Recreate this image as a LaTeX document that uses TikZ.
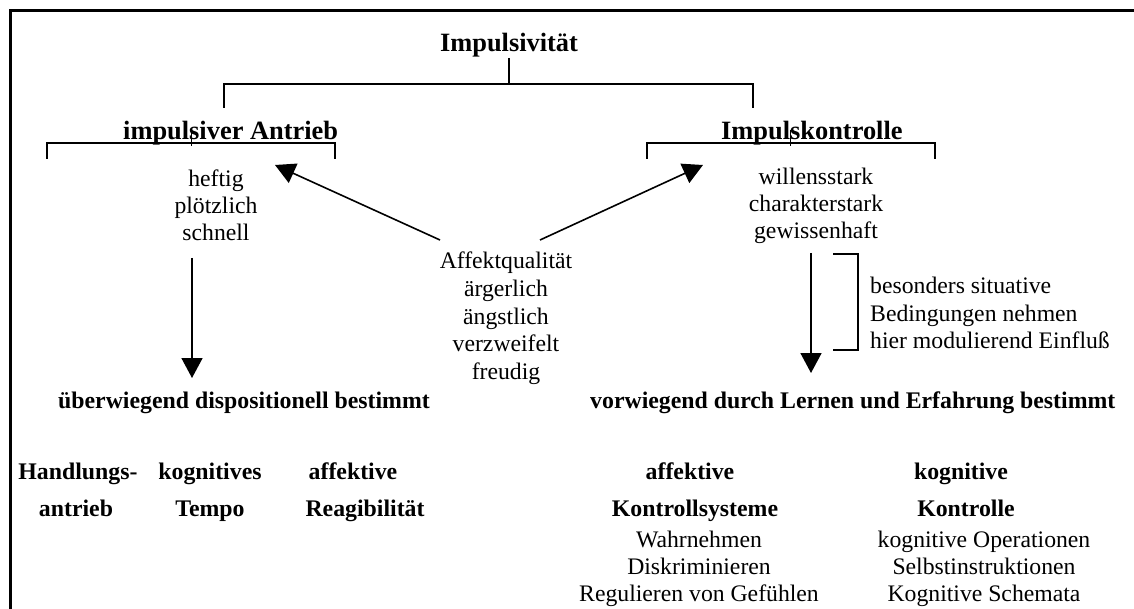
\documentclass[tikz,border=0pt]{standalone}
\usepackage{fontspec}
\setmainfont{Liberation Serif}
\usetikzlibrary{arrows.meta}
\begin{document}
\begin{tikzpicture}[x=1pt,y=-1pt,
  txt/.style={inner sep=0pt, font=\fontsize{23.7}{27}\selectfont, anchor=base},
  bld/.style={inner sep=0pt, font=\fontsize{23.8}{37}\selectfont\bfseries, anchor=base},
  head/.style={inner sep=0pt, font=\fontsize{26.4}{30}\selectfont\bfseries, anchor=base},
  ln/.style={line width=1.6pt},
  arr/.style={ln, -{Triangle[length=20pt,width=21pt]}},
  frm/.style={line width=3pt, line join=miter}]
\fill[white] (0,0) rectangle (1134,609);
\useasboundingbox (0,0) rectangle (1134,609);
% frame
\draw[frm] (1134,11) -- (10,11) -- (10,609);

% headings
\node[head] (imp) at (509,52) {Impulsivität};
\node[head, anchor=base west] (antrieb) at (123,140) {impulsiver Antrieb};
\node[head, anchor=base west] (kontr) at (721,140) {Impulskontrolle};

% tree connectors
\coordinate (jl) at (224,108);
\coordinate (jr) at (753,108);
\coordinate (jm) at (509,84);
\draw[ln] (imp.south) -- (jm);
\draw[ln] (jl) |- (jm) -| (jr);

% brackets under headings
\coordinate (bl1) at (47,159);
\coordinate (bl2) at (335,159);
\coordinate (br1) at (647,159);
\coordinate (br2) at (935,159);
\draw[ln] (bl1) |- (335,143) -- (bl2);
\draw[ln] (br1) |- (935,143) -- (br2);
\draw[line width=1pt] (191,130) -- (191,146);
\draw[line width=1pt] (790,130) -- (790,146);

% descriptive blocks
\foreach \t [count=\i] in {heftig,plötzlich,schnell}
  \node[txt] (heft\i) at (216,160+27*\i) {\t};
\foreach \t [count=\i] in {Affektqualität,ärgerlich,ängstlich,verzweifelt,freudig}
  \node[txt] (affekt\i) at (506,241.5+27.5*\i) {\t};
\foreach \t [count=\i] in {willensstark,charakterstark,gewissenhaft}
  \node[txt] (willen\i) at (816,158+27*\i) {\t};

% diagonal arrows
\coordinate (aL) at (440,240);
\coordinate (aR) at (540,240);
\coordinate (tL) at (275,165);
\coordinate (tR) at (703,165);
\draw[arr] (aL) -- (tL);
\draw[arr] (aR) -- (tR);

% determinants
\node[bld, anchor=base west] (ueber) at (58,408) {überwiegend dispositionell bestimmt};
\node[bld, anchor=base west] (vor) at (590,408) {vorwiegend durch Lernen und Erfahrung bestimmt};

\coordinate (dL1) at (192,258);
\coordinate (dL2) at (192,378);
\coordinate (dR1) at (811,253);
\coordinate (dR2) at (811,373);
\draw[arr] (dL1) -- (dL2);
\draw[arr] (dR1) -- (dR2);

% side bracket and note
\coordinate (s1) at (833,254);
\coordinate (s2) at (833,350);
\draw[ln] (s1) -- (858,254) -- (858,350) -- (s2);
\foreach \t [count=\i] in {besonders situative,Bedingungen nehmen,hier modulierend Einfluß}
  \node[txt, anchor=base west] (note\i) at (870,267+27*\i) {\t};

% bottom left
\node[bld] (hand1) at (78,479) {Handlungs-};
\node[bld] (hand2) at (76,516) {antrieb};
\node[bld] (kog1) at (210,479) {kognitives};
\node[bld] (kog2) at (210,516) {Tempo};
\node[bld] (aff1) at (353,479) {affektive};
\node[bld] (aff2) at (365,516) {Reagibilität};

% bottom right
\node[bld] (ak1) at (690,479) {affektive};
\node[bld] (ak2) at (695,516) {Kontrollsysteme};
\foreach \t [count=\i] in {Wahrnehmen,Diskriminieren,Regulieren von Gefühlen}
  \node[txt] (ak\i l) at (699,520+27*\i) {\t};
\node[bld] (kk1) at (961,479) {kognitive};
\node[bld] (kk2) at (966,516) {Kontrolle};
\foreach \t [count=\i] in {kognitive Operationen,Selbstinstruktionen,Kognitive Schemata}
  \node[txt] (kk\i l) at (984,520+27*\i) {\t};
\end{tikzpicture}
\end{document}
